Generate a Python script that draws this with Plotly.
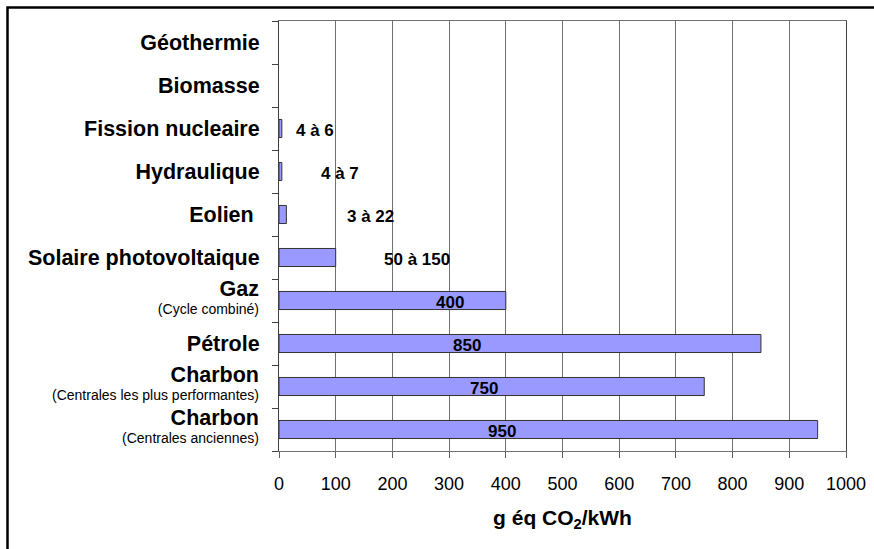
import plotly.graph_objects as go

# ---- data (top-to-bottom order) ----
names = ["Géothermie", "Biomasse", "Fission nucleaire", "Hydraulique", "Eolien\u00a0",
         "Solaire photovoltaique", "Gaz", "Pétrole", "Charbon", "Charbon"]
subtitles = ["", "", "", "", "", "", "(Cycle combiné)", "",
             "(Centrales les plus performantes)", "(Centrales anciennes)"]
values = [None, None, 5, 5, 13, 100, 400, 850, 750, 950]
value_labels = ["", "", "4 à 6", "4 à 7", "3 à 22", "50 à 150", "400", "850", "750", "950"]
x_ticks = [0, 100, 200, 300, 400, 500, 600, 700, 800, 900, 1000]
x_title = "g éq CO<sub>2</sub>/kWh"

# ---- styling ----
label_xshift = [0, 0, 33, 58, 84, 81, -56, -294, -220, -316]
FONT = "Liberation Sans, Arial, sans-serif"
W, H = 874, 549
ML, MR, MT, MB = 279, 28, 21, 98
PW, PH = W - ML - MR, H - MT - MB

keys = [f"{n}|{s}|{i}" for i, (n, s) in enumerate(zip(names, subtitles))]
yrange = [len(keys) - 0.5, -0.5]

# single-line labels on the main y axis, two-line labels on an overlaid axis
single_text = [f"<b>{n}</b>" if not s else "" for n, s in zip(names, subtitles)]
multi_vals = [k for k, s in zip(keys, subtitles) if s]
multi_text = [f"<span style='font-size:21.5px'><b>{n}</b></span><br>{s}"
              for n, s in zip(names, subtitles) if s]

fig = go.Figure()
fig.add_trace(go.Bar(
    x=values, y=keys, orientation="h",
    marker=dict(color="#9999FF", line=dict(color="#333333", width=1)),
    hoverinfo="x",
))
# helper trace so the overlaid label axis is rendered (invisible)
fig.add_trace(go.Scatter(
    x=[0] * len(keys), y=keys, yaxis="y2", mode="markers",
    marker=dict(size=1, opacity=0), hoverinfo="skip", showlegend=False,
))

annotations = []
for k, v, lab, dx in zip(keys, values, value_labels, label_xshift):
    if not lab:
        continue
    annotations.append(dict(
        x=v, y=k, xref="x", yref="y", text=f"<b>{lab}</b>", showarrow=False,
        xanchor="center", yanchor="middle", xshift=dx, yshift=-2,
        font=dict(family=FONT, size=17, color="black"),
    ))

shapes = [dict(
    type="rect", xref="paper", yref="paper",
    x0=(7.5 - ML) / PW, x1=(W + 20 - ML) / PW,
    y0=-(MB + 20) / PH, y1=(H - MB - 7.5) / PH,
    line=dict(color="black", width=2.5), fillcolor="rgba(0,0,0,0)", layer="above",
)]

fig.update_layout(
    width=W, height=H,
    margin=dict(l=ML, r=MR, t=MT, b=MB, pad=0, autoexpand=False),
    paper_bgcolor="white", plot_bgcolor="white",
    showlegend=False, bargap=0.58,
    font=dict(family=FONT, color="black"),
    annotations=annotations, shapes=shapes,
    xaxis=dict(
        range=[0, 1000], tickvals=x_ticks, ticks="outside", ticklen=6,
        tickcolor="#606060", showgrid=True, gridcolor="#707070", gridwidth=1,
        showline=True, linecolor="#707070", linewidth=1, mirror=True,
        zeroline=False, tickfont=dict(family=FONT, size=18, color="black"),
        title=dict(text=f"<b>{x_title}</b>", font=dict(family=FONT, size=21, color="black"),
                   standoff=17),
        ticklabelstandoff=10, automargin=False,
    ),
    yaxis=dict(
        type="category", categoryorder="array", categoryarray=keys,
        range=yrange, tickmode="array", tickvals=keys, ticktext=single_text,
        tickson="boundaries", ticks="outside", ticklen=6, tickcolor="#404040",
        showline=True, linecolor="#404040", linewidth=1, mirror=True,
        showgrid=False, zeroline=False,
        tickfont=dict(family=FONT, size=21.5, color="black"),
        ticklabelstandoff=14, automargin=False,
    ),
    yaxis2=dict(
        type="category", categoryorder="array", categoryarray=keys,
        overlaying="y", side="left", range=yrange,
        tickmode="array", tickvals=multi_vals, ticktext=multi_text,
        ticks="", showline=False, showgrid=False, zeroline=False,
        tickfont=dict(family=FONT, size=14, color="black"),
        ticklabelstandoff=19, automargin=False,
    ),
)

fig.write_html("out.html", config={"displayModeBar": False},
               post_script="document.body.style.margin='0';")
